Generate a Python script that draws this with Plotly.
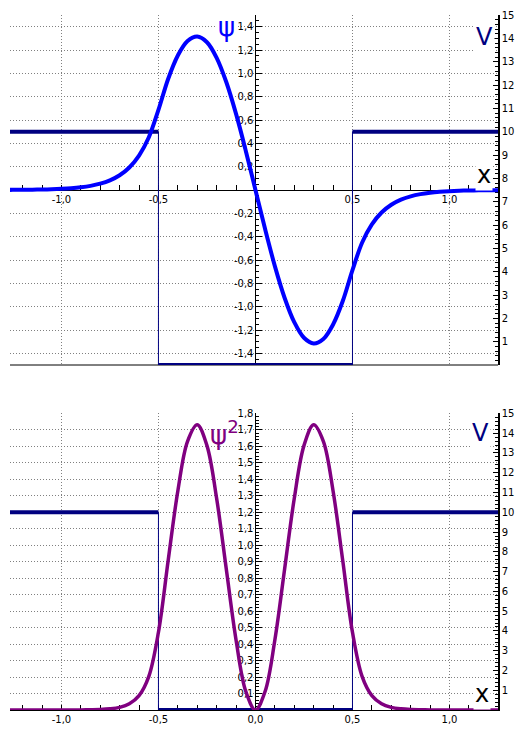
import plotly.graph_objects as go

# ---------------- data ----------------
x_pts = [-1.30, -1.25, -1.20, -1.15, -1.10, -1.05, -1.00, -0.95, -0.90, -0.85,
         -0.80, -0.75, -0.70, -0.65, -0.60, -0.55, -0.50, -0.45, -0.40, -0.35,
         -0.30, -0.25, -0.20, -0.15, -0.10, -0.05, 0.00, 0.05, 0.10, 0.15,
         0.20, 0.25, 0.30, 0.35, 0.40, 0.45, 0.50, 0.55, 0.60, 0.65,
         0.70, 0.75, 0.80, 0.85, 0.90, 0.95, 1.00, 1.05, 1.10, 1.15,
         1.20, 1.25, 1.30]

psi = [0.0008, 0.0012, 0.0018, 0.0028, 0.0043, 0.0065, 0.0100, 0.0153, 0.0233, 0.0356,
       0.0543, 0.0828, 0.1265, 0.1931, 0.2947, 0.4499, 0.6868, 0.9517, 1.1530, 1.2770,
       1.3158, 1.2668, 1.1330, 0.9234, 0.6522, 0.3373, 0.0000, -0.3373, -0.6522, -0.9234,
       -1.1330, -1.2668, -1.3158, -1.2770, -1.1530, -0.9517, -0.6868, -0.4499, -0.2947, -0.1931,
       -0.1265, -0.0828, -0.0543, -0.0356, -0.0233, -0.0153, -0.0100, -0.0065, -0.0043, -0.0028,
       -0.0018, -0.0012, -0.0008]

psi_sq = [0.0000, 0.0000, 0.0000, 0.0000, 0.0000, 0.0000, 0.0001, 0.0002, 0.0005, 0.0013,
          0.0029, 0.0069, 0.0160, 0.0373, 0.0868, 0.2024, 0.4717, 0.9057, 1.3294, 1.6307,
          1.7313, 1.6048, 1.2837, 0.8527, 0.4254, 0.1138, 0.0000, 0.1138, 0.4254, 0.8527,
          1.2837, 1.6048, 1.7313, 1.6307, 1.3294, 0.9057, 0.4717, 0.2024, 0.0868, 0.0373,
          0.0160, 0.0069, 0.0029, 0.0013, 0.0005, 0.0002, 0.0001, 0.0000, 0.0000, 0.0000,
          0.0000, 0.0000, 0.0000]

well_x = [-1.30, -0.5, -0.5, 0.5, 0.5, 1.30]
well_V = [10, 10, 0, 0, 10, 10]

x_tick_vals_top = [-1.0, -0.5, 0.5, 1.0]
x_tick_text_top = ["-1,0", "-0,5", "0,5", "1,0"]
x_tick_vals_bot = [-1.0, -0.5, 0.0, 0.5, 1.0]
x_tick_text_bot = ["-1,0", "-0,5", "0,0", "0,5", "1,0"]

psi_tick_vals = [-1.4, -1.2, -1.0, -0.8, -0.6, -0.4, -0.2, 0.2, 0.4, 0.6, 0.8, 1.0, 1.2, 1.4]
psi_tick_text = ["-1,4", "-1,2", "-1,0", "-0,8", "-0,6", "-0,4", "-0,2",
                 "0,2", "0,4", "0,6", "0,8", "1,0", "1,2", "1,4"]

psisq_tick_vals = [0.1, 0.2, 0.3, 0.4, 0.5, 0.6, 0.7, 0.8, 0.9,
                   1.0, 1.1, 1.2, 1.3, 1.4, 1.5, 1.6, 1.7, 1.8]
psisq_tick_text = ["0,1", "0,2", "0,3", "0,4", "0,5", "0,6", "0,7", "0,8", "0,9",
                   "1,0", "1,1", "1,2", "1,3", "1,4", "1,5", "1,6", "1,7", "1,8"]

V_tick_vals = [1, 2, 3, 4, 5, 6, 7, 8, 9, 10, 11, 12, 13, 14, 15]
V_tick_text = ["1", "2", "3", "4", "5", "6", "7", "8", "9", "10", "11", "12", "13", "14", "15"]

# ---------------- styling ----------------
X_RANGE = [-1.265, 1.25]
PSI_RANGE = [-1.5, 1.5]
PSISQ_RANGE = [0, 1.8]
V_RANGE = [0, 15]
TOP_DOM = [0.4964, 1.0]
BOT_DOM = [0.0, 0.4267]

PSI_COLOR = "#0000ff"
PSISQ_COLOR = "#800080"
V_COLOR = "#000080"
GRID = "#808080"
GRID_DASH = "1px,2px"
TICKFONT = dict(family="DejaVu Sans", size=10, color="black")

psi_axis_pos = (0 - X_RANGE[0]) / (X_RANGE[1] - X_RANGE[0])
psi_zero_pos = TOP_DOM[0] + (0 - PSI_RANGE[0]) / (PSI_RANGE[1] - PSI_RANGE[0]) * (TOP_DOM[1] - TOP_DOM[0])

# horizontal (thick) parts of the well
thick_x, thick_V = [], []
for i in range(0, len(well_x), 2):
    thick_x += [well_x[i], well_x[i + 1], None]
    thick_V += [well_V[i], well_V[i + 1], None]

fig = go.Figure()

# ---- top panel ----
fig.add_trace(go.Scatter(x=well_x, y=well_V, mode="lines", line=dict(color=V_COLOR, width=1),
                         xaxis="x", yaxis="y", hoverinfo="skip", showlegend=False))
fig.add_trace(go.Scatter(x=thick_x, y=thick_V, mode="lines", line=dict(color=V_COLOR, width=4),
                         xaxis="x", yaxis="y", hoverinfo="skip", showlegend=False))
fig.add_trace(go.Scatter(x=x_pts, y=psi, mode="lines", line=dict(color=PSI_COLOR, width=4, shape="spline"),
                         xaxis="x", yaxis="y2", showlegend=False))

# ---- bottom panel ----
fig.add_trace(go.Scatter(x=well_x, y=well_V, mode="lines", line=dict(color=V_COLOR, width=1),
                         xaxis="x2", yaxis="y3", hoverinfo="skip", showlegend=False))
fig.add_trace(go.Scatter(x=thick_x, y=thick_V, mode="lines", line=dict(color=V_COLOR, width=4),
                         xaxis="x2", yaxis="y3", hoverinfo="skip", showlegend=False))
fig.add_trace(go.Scatter(x=x_pts, y=psi_sq, mode="lines", line=dict(color=PSISQ_COLOR, width=3.5, shape="spline"),
                         xaxis="x2", yaxis="y4", showlegend=False))

common_x = dict(range=X_RANGE, domain=[0, 1], showline=True, linecolor="black", linewidth=1,
                ticks="inside", ticklen=5, tickcolor="black", tickfont=TICKFONT,
                showgrid=True, gridcolor=GRID, griddash=GRID_DASH, gridwidth=1,
                zeroline=False, layer="below traces",
                minor=dict(dtick=0.1, tick0=0, ticks="inside", ticklen=5, tickcolor="black", showgrid=False))

V_axis = dict(range=V_RANGE, side="right", showline=True, linecolor="black", linewidth=1.5,
              tickvals=V_tick_vals, ticktext=V_tick_text, ticks="inside", ticklen=5, tickcolor="black",
              tickfont=TICKFONT, showgrid=False, zeroline=False, layer="below traces",
              minor=dict(dtick=0.2, tick0=0, ticks="inside", ticklen=3, tickcolor="black", showgrid=False))

fig.update_layout(
    width=523, height=734, autosize=False,
    margin=dict(l=10, r=20, t=9, b=22),
    paper_bgcolor="white", plot_bgcolor="white",
    xaxis=dict(common_x, anchor="free", position=psi_zero_pos,
               tickvals=x_tick_vals_top, ticktext=x_tick_text_top),
    yaxis=dict(V_axis, domain=TOP_DOM, anchor="x"),
    yaxis2=dict(range=PSI_RANGE, overlaying="y", anchor="free", position=psi_axis_pos, side="left",
                showline=True, linecolor="black", linewidth=1,
                tickvals=psi_tick_vals, ticktext=psi_tick_text, ticks="inside", ticklen=6, tickcolor="black",
                tickfont=TICKFONT, showgrid=True, gridcolor=GRID, griddash=GRID_DASH, gridwidth=1,
                zeroline=False, layer="below traces",
                minor=dict(dtick=0.05, tick0=0, ticks="inside", ticklen=3, tickcolor="black", showgrid=False)),
    xaxis2=dict(common_x, anchor="y3", tickvals=x_tick_vals_bot, ticktext=x_tick_text_bot),
    yaxis3=dict(V_axis, domain=BOT_DOM, anchor="x2"),
    yaxis4=dict(range=PSISQ_RANGE, overlaying="y3", anchor="free", position=psi_axis_pos, side="left",
                showline=True, linecolor="black", linewidth=1,
                tickvals=psisq_tick_vals, ticktext=psisq_tick_text, ticks="inside", ticklen=6, tickcolor="black",
                tickfont=TICKFONT, showgrid=True, gridcolor=GRID, griddash=GRID_DASH, gridwidth=1,
                zeroline=False, layer="below traces",
                minor=dict(dtick=0.02, tick0=0, ticks="inside", ticklen=3, tickcolor="black", showgrid=False)),
    shapes=[dict(type="line", xref="x domain", yref="y domain", x0=0, x1=1, y0=0, y1=0,
                 line=dict(color="black", width=1), layer="below")],
)

lab_font = "DejaVu Sans"
fig.add_annotation(x=-0.15, y=1.40, xref="x", yref="y2", text="ψ", showarrow=False,
                   font=dict(family=lab_font, size=26, color=PSI_COLOR), bgcolor="white")
fig.add_annotation(x=1.18, y=1.31, xref="x", yref="y2", text="V", showarrow=False,
                   font=dict(family=lab_font, size=24, color=V_COLOR), bgcolor="white")
fig.add_annotation(x=1.18, y=0.13, xref="x", yref="y2", text="x", showarrow=False,
                   font=dict(family=lab_font, size=24, color="black"), bgcolor="white")
fig.add_annotation(x=-0.16, y=1.68, xref="x2", yref="y4", text="ψ<sup>2</sup>", showarrow=False,
                   font=dict(family=lab_font, size=26, color=PSISQ_COLOR))
fig.add_annotation(x=1.16, y=1.68, xref="x2", yref="y4", text="V", showarrow=False,
                   font=dict(family=lab_font, size=24, color=V_COLOR), bgcolor="white")
fig.add_annotation(x=1.17, y=0.10, xref="x2", yref="y4", text="x", showarrow=False,
                   font=dict(family=lab_font, size=24, color="black"), bgcolor="white")

fig.write_html("out.html", config={"displayModeBar": False},
               post_script="document.body.style.margin='0';")
